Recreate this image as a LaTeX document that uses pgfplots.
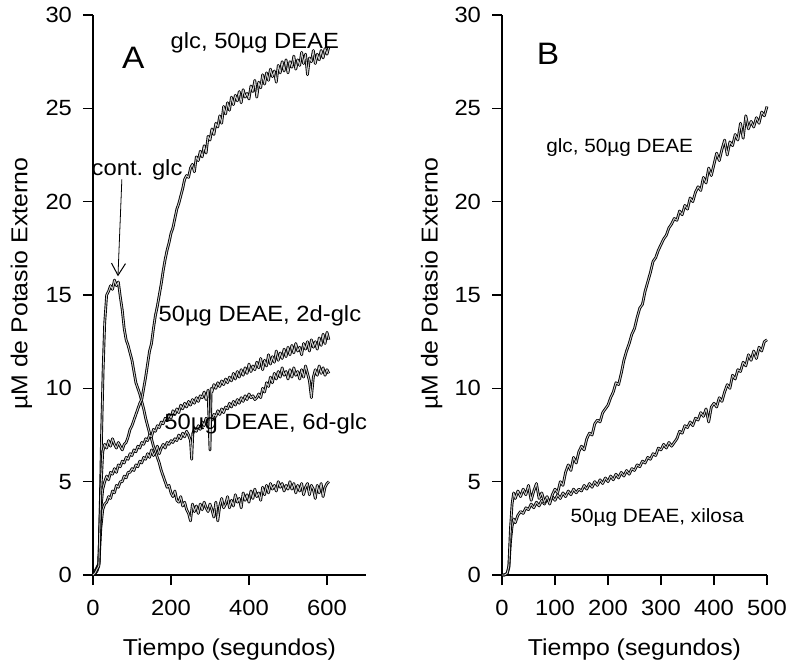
\documentclass[border=0pt]{standalone}
\usepackage{pgfplots}
\pgfplotsset{compat=1.18}
\usepackage{fontspec}
\setmainfont{Liberation Sans}[FakeStretch=1.08]
\usetikzlibrary{arrows.meta}

\pgfplotstableread{
x y
0 0
5 0.1
10 0.3
15 0.5
20 4.5
25 6.6
30 7.0
35 6.8
40 7.2
45 6.9
50 7.3
55 7.0
60 6.8
65 7.1
70 6.9
75 6.7
80 7.0
85 7.1
90 7.4
95 7.8
100 8.0
105 8.3
110 8.6
115 8.9
120 9.2
125 9.4
130 10.0
135 10.6
140 11.3
145 12.0
150 12.4
155 13.2
160 13.9
165 14.4
170 15.0
175 15.6
180 16.3
185 16.9
190 17.4
195 17.8
200 18.3
205 18.6
210 19.1
215 19.6
220 19.9
225 20.3
230 20.7
235 21.2
240 21.4
245 21.3
250 21.8
255 22.0
260 21.6
265 22.4
270 22.2
275 22.7
280 22.4
285 23.0
290 22.6
295 23.5
300 23.3
305 23.9
310 23.6
315 24.2
320 24.0
325 24.6
330 24.2
335 25.1
340 24.7
345 25.3
350 24.9
355 25.6
360 25.2
365 25.7
370 25.4
375 25.9
380 25.3
385 26.0
390 25.6
395 25.8
400 25.5
405 26.2
410 25.9
415 26.5
420 25.6
425 26.4
430 26.1
435 26.8
440 26.3
445 26.9
450 26.5
455 27.1
460 26.7
465 27.0
470 26.4
475 27.3
480 26.9
485 27.5
490 27.0
495 27.6
500 26.9
505 27.5
510 27.2
515 27.8
520 27.1
525 27.6
530 27.3
535 28.0
540 27.4
545 27.9
550 26.8
555 27.7
560 27.5
565 28.1
570 27.4
575 27.9
580 27.6
585 28.1
590 27.7
595 28.2
600 27.9
605 28.3
}\glcA

\pgfplotstableread{
x y
0 0
5 0.2
10 0.4
15 0.6
18 3.0
22 7.5
26 11.0
30 13.5
35 15.0
40 15.2
45 15.5
50 15.3
55 15.8
60 15.5
65 15.7
70 14.9
75 14.2
80 13.2
85 12.6
90 12.3
95 11.9
100 11.5
105 10.9
110 10.3
115 10.0
120 9.7
125 9.3
130 8.9
135 8.4
140 8.0
145 7.6
150 7.3
155 6.9
160 6.6
165 6.3
170 6.0
175 5.6
180 5.3
185 5.0
190 4.7
195 4.8
200 4.4
205 4.2
210 4.5
215 4.0
220 3.9
225 4.2
230 3.7
235 3.9
240 3.5
245 3.3
250 2.9
255 3.8
260 3.4
265 3.7
270 3.3
275 3.8
280 3.5
285 3.9
290 3.6
295 3.4
300 3.8
305 3.5
310 3.1
315 3.9
320 2.9
325 3.7
330 4.1
335 3.6
340 3.8
345 4.2
350 3.6
355 4.0
360 3.7
365 4.3
370 3.9
375 4.1
380 3.6
385 4.4
390 4.0
395 4.3
400 3.9
405 4.5
410 4.1
415 4.6
420 4.2
425 4.4
430 4.0
435 4.7
440 4.3
445 4.8
450 4.4
455 4.9
460 4.6
465 4.8
470 4.5
475 5.0
480 4.7
485 4.9
490 4.5
495 4.8
500 4.6
505 5.0
510 4.6
515 4.9
520 4.4
525 4.8
530 4.5
535 4.9
540 4.3
545 4.7
550 4.9
555 4.3
560 4.8
565 4.6
570 4.1
575 4.8
580 4.4
585 4.9
590 4.2
595 4.7
600 4.9
605 5.0
}\contA

\pgfplotstableread{
x y
0 0
5 0.1
10 0.3
15 0.6
20 3.5
25 4.6
30 5.0
35 5.3
40 5.1
45 5.5
50 5.4
55 5.7
60 5.5
65 5.9
70 5.8
75 6.1
80 6.0
85 6.3
90 6.2
95 6.5
100 6.4
105 6.7
110 6.6
115 6.9
120 6.8
125 7.1
130 7.0
135 7.3
140 7.2
145 7.5
150 7.4
155 7.8
160 7.7
165 8.0
170 7.9
175 8.2
180 8.1
185 8.4
190 8.3
195 8.6
200 8.4
205 8.8
210 8.6
215 8.9
220 8.7
225 9.1
230 8.9
235 9.2
240 9.0
245 9.3
250 9.1
255 9.4
260 9.2
265 9.5
270 9.3
275 9.6
280 9.5
285 9.8
290 9.4
295 9.9
300 6.7
303 10.0
305 9.8
310 10.2
315 10.0
320 10.3
325 10.1
330 10.4
335 10.2
340 10.5
345 10.3
350 10.6
355 10.4
360 10.8
365 10.5
370 10.9
375 10.6
380 11.0
385 10.7
390 11.1
395 10.8
400 11.3
405 10.9
410 11.2
415 11.0
420 11.4
425 11.1
430 11.6
435 11.0
440 11.5
445 11.2
450 11.8
455 11.3
460 11.7
465 11.4
470 12.0
475 11.5
480 11.9
485 11.6
490 12.1
495 11.7
500 12.2
505 11.8
510 12.3
515 11.9
520 12.4
525 12.0
530 12.2
535 11.8
540 12.4
545 12.1
550 12.5
555 12.0
560 12.6
565 12.2
570 12.5
575 12.1
580 12.7
585 12.3
590 12.9
595 12.4
600 13.0
605 12.6
}\twodA

\pgfplotstableread{
x y
0 0
5 0.1
10 0.2
15 0.5
20 2.5
25 3.5
30 3.8
35 3.9
40 4.2
45 4.1
50 4.5
55 4.4
60 4.8
65 4.7
70 5.0
75 5.0
80 5.3
85 5.2
90 5.5
95 5.5
100 5.7
105 5.6
110 5.9
115 5.8
120 6.1
125 6.0
130 6.3
135 6.2
140 6.5
145 6.3
150 6.7
155 6.4
160 6.6
165 6.9
170 6.5
175 6.8
180 7.0
185 6.8
190 7.1
195 7.0
200 7.2
205 7.1
210 7.3
215 7.2
220 7.5
225 7.3
230 7.6
235 7.4
240 7.7
245 7.5
250 7.2
253 6.2
256 7.6
260 7.8
265 7.7
270 8.0
275 7.8
280 8.2
285 8.0
290 8.4
295 8.2
300 8.5
305 8.3
310 8.6
315 8.5
320 8.8
325 8.6
330 8.9
335 8.7
340 9.0
345 8.9
350 9.2
355 9.0
360 9.3
365 9.1
370 9.4
375 9.2
380 9.5
385 9.3
390 9.6
395 9.4
400 9.7
405 9.5
410 9.6
415 9.4
420 9.5
425 9.7
430 9.5
435 10.0
440 9.8
445 10.3
450 10.1
455 10.6
460 10.3
465 10.8
470 10.5
475 10.9
480 10.6
485 11.1
490 10.7
495 10.9
500 10.5
505 11.0
510 10.6
515 11.1
520 10.7
525 10.9
530 10.5
535 11.0
540 10.6
545 11.2
550 10.8
555 10.4
560 9.5
565 10.6
570 11.0
575 10.7
580 11.2
585 10.8
590 11.1
595 10.7
600 11.0
605 10.8
}\sixdA

\pgfplotstableread{
x y
0 0
5 0
10 0.1
13 0.5
16 2.5
19 3.8
22 4.4
25 4.1
30 4.5
35 4.2
40 4.6
45 4.3
50 4.8
55 4.0
60 4.5
65 4.9
70 4.1
75 4.4
80 3.9
85 4.2
90 3.8
95 4.3
100 4.6
105 4.4
110 5.0
115 4.8
120 5.5
125 5.9
130 5.6
135 6.3
140 6.0
145 6.6
150 6.9
155 6.7
160 7.3
165 7.6
170 7.5
175 8.1
180 8.3
185 8.2
190 8.7
195 8.9
200 9.1
205 9.5
210 9.8
215 10.3
220 10.2
225 10.8
230 11.5
235 12.0
240 12.4
245 12.9
250 13.2
255 13.8
260 14.3
265 14.5
270 15.2
275 15.7
280 16.2
285 16.8
290 17.0
295 17.4
300 17.7
305 18.0
310 18.2
315 18.6
320 18.8
325 19.1
330 19.0
335 19.5
340 19.3
345 19.8
350 19.6
355 20.2
360 20.0
365 20.5
370 20.8
375 20.6
380 21.3
385 21.0
390 21.8
395 21.4
400 22.0
405 22.6
410 22.2
415 22.8
420 23.3
425 22.5
430 23.2
435 23.0
440 23.6
445 23.3
450 24.2
455 23.4
460 24.6
465 23.9
470 24.3
475 24.0
480 24.5
485 24.2
490 24.8
495 24.6
500 25.1
}\glcB

\pgfplotstableread{
x y
0 0
5 0
10 0.1
13 0.4
16 1.8
19 2.6
22 3.0
25 2.8
30 3.2
35 3.4
40 3.3
45 3.6
50 3.5
55 3.8
60 3.6
65 3.9
70 3.7
75 4.0
80 3.8
85 4.1
90 3.9
95 4.2
100 4.0
105 4.3
110 4.1
115 4.4
120 4.2
125 4.5
130 4.3
135 4.6
140 4.4
145 4.6
150 4.5
155 4.8
160 4.6
165 4.9
170 4.7
175 5.0
180 4.8
185 5.1
190 4.9
195 5.2
200 5.0
205 5.3
210 5.1
215 5.4
220 5.2
225 5.5
230 5.3
235 5.6
240 5.4
245 5.7
250 5.6
255 5.9
260 5.8
265 6.1
270 6.0
275 6.3
280 6.2
285 6.5
290 6.4
295 6.8
300 6.7
305 7.0
310 6.8
315 7.1
320 6.9
325 7.1
330 7.3
335 7.7
340 7.6
345 8.0
350 7.9
355 8.2
360 8.0
365 8.4
370 8.3
375 8.7
380 8.5
385 8.9
390 8.2
395 9.0
400 9.2
405 9.0
410 9.5
415 9.3
420 9.8
425 10.2
430 10.0
435 10.7
440 10.5
445 11.0
450 10.9
455 11.4
460 11.2
465 11.8
470 11.5
475 12.0
480 11.6
485 12.2
490 12.0
495 12.5
500 12.6
}\xilB

\pgfplotsset{
  myaxis/.style={
    scale only axis, height=280pt,
    ymin=0, ymax=30, ytick={0,5,...,30},
    axis lines=left, axis line style={-, line width=0.6pt},
    tick align=outside, major tick length=5pt,
    tick style={line width=0.6pt, black},
    /pgf/number format/assume math mode=true,
    tick label style={font=\fontsize{11}{13}\selectfont},
    yticklabel style={xshift=-2pt},
    xticklabel style={yshift=-4pt},
    label style={font=\fontsize{11.5}{13}\selectfont},
    xlabel={Tiempo (segundos)},
    ylabel={µM de Potasio Externo},
    xlabel style={at={(axis description cs:0.5,0)}, anchor=center, yshift=-37.5pt},
    clip=false,
  },
  trace/.style={black, line width=0.45pt, double=gray!40, double distance=0.45pt, line join=round},
}

\begin{document}
\begin{tikzpicture}
\path[use as bounding box] (0,0) rectangle (394.5pt,333pt);

\begin{axis}[myaxis, at={(46.5pt,45.5pt)}, anchor=south west,
  width=136.5pt, xmin=0, xmax=700, xtick={0,200,400,600},
  ylabel style={at={(axis description cs:-0.262,0.52)}, anchor=center}]
\addplot[trace] table {\contA};
\addplot[trace] table {\sixdA};
\addplot[trace] table {\twodA};
\addplot[trace] table {\glcA};
\node[font=\fontsize{15.5}{17}\selectfont] at (axis cs:103,27.7) {A};
\node[font=\fontsize{11}{13}\selectfont] at (axis cs:415,28.5) {glc, 50µg DEAE};
\node[font=\fontsize{11}{13}\selectfont] at (axis cs:113,21.7) {cont. glc};
\draw[line width=0.4pt, -{Straight Barb[length=6pt,width=7pt,line width=0.5pt]}] (axis cs:74,21.2) -- (axis cs:64,16.0);
\node[font=\fontsize{11}{13}\selectfont] at (axis cs:428,13.9) {50µg DEAE, 2d-glc};
\node[font=\fontsize{11}{13}\selectfont] at (axis cs:443,8.1) {50µg DEAE, 6d-glc};
\end{axis}

\begin{axis}[myaxis, at={(251pt,45.5pt)}, anchor=south west,
  width=132.5pt, xmin=0, xmax=500, xtick={0,100,...,500},
  ylabel style={at={(axis description cs:-0.265,0.52)}, anchor=center}]
\addplot[trace] table {\xilB};
\addplot[trace] table {\glcB};
\node[font=\fontsize{15.5}{17}\selectfont] at (axis cs:87,27.9) {B};
\node[font=\fontsize{9.6}{11}\selectfont] at (axis cs:222,22.9) {glc, 50µg DEAE};
\node[font=\fontsize{9.6}{11}\selectfont] at (axis cs:293,3.1) {50µg DEAE, xilosa};
\end{axis}
\end{tikzpicture}
\end{document}
